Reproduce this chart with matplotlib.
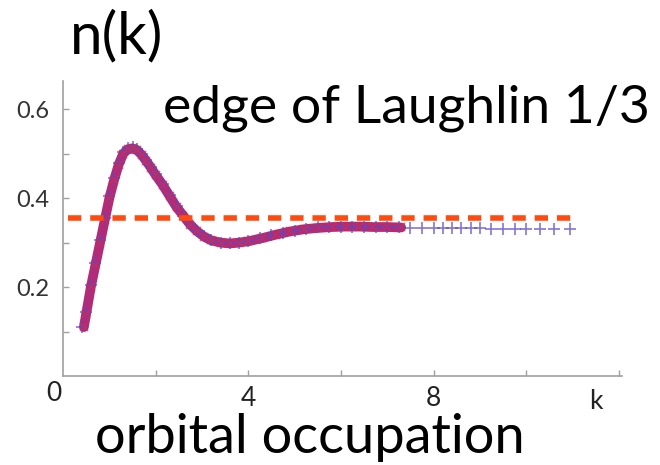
import matplotlib
matplotlib.use('Agg')
import matplotlib.pyplot as plt

# occupation
k_red = [0.45, 0.5, 0.6, 0.7, 0.8, 0.9, 1.0, 1.1, 1.2, 1.3, 1.4, 1.5, 1.6, 1.7, 1.8,
         1.9, 2.0, 2.15, 2.3, 2.45, 2.6, 2.75, 2.9, 3.05, 3.2, 3.4, 3.6, 3.8, 4.0,
         4.3, 4.6, 4.9, 5.2, 5.5, 5.8, 6.1, 6.4, 6.7, 7.0, 7.3]
n_red = [0.11, 0.14, 0.20, 0.25, 0.30, 0.35, 0.40, 0.44, 0.475, 0.50, 0.51, 0.512,
         0.508, 0.497, 0.483, 0.468, 0.452, 0.43, 0.405, 0.38, 0.36, 0.34, 0.325,
         0.313, 0.305, 0.30, 0.298, 0.30, 0.303, 0.31, 0.318, 0.325, 0.33, 0.333,
         0.335, 0.336, 0.336, 0.335, 0.335, 0.334]

k_blue = [0.42, 0.5, 0.6, 0.7, 0.8, 0.9, 1.0, 1.1, 1.2, 1.3, 1.4, 1.5, 1.6, 1.7, 1.8,
          1.9, 2.0, 2.15, 2.3, 2.45, 2.6, 2.75, 2.9, 3.05, 3.2, 3.4, 3.6, 3.8, 4.0,
          4.25, 4.5, 4.75, 5.0, 5.25, 5.5, 5.75, 6.0, 6.25, 6.5, 6.75, 7.0, 7.25,
          7.5, 7.75, 8.0, 8.2, 8.4, 8.6, 8.8, 9.0, 9.25, 9.5, 9.75, 10.0, 10.3,
          10.6, 10.95]
n_blue = [0.11, 0.145, 0.205, 0.255, 0.305, 0.355, 0.405, 0.445, 0.48, 0.503, 0.513,
          0.515, 0.51, 0.5, 0.486, 0.47, 0.455, 0.432, 0.407, 0.382, 0.36, 0.341,
          0.326, 0.314, 0.306, 0.30, 0.298, 0.30, 0.304, 0.31, 0.316, 0.322, 0.327,
          0.331, 0.334, 0.335, 0.336, 0.336, 0.335, 0.335, 0.334, 0.334, 0.333,
          0.333, 0.333, 0.333, 0.332, 0.332, 0.332, 0.332, 0.331, 0.331, 0.331,
          0.331, 0.331, 0.331, 0.331]

nu_line = 0.355
k_line = [0.1, 11.0]

plt.rcParams['font.family'] = ['Lato', 'DejaVu Sans']

fig = plt.figure(figsize=(6.6, 4.65), dpi=100)
ax = fig.add_axes([0.0955, 0.1914, 0.847, 0.634])

ax.plot(k_red, n_red, color='#b02c78', lw=7, solid_capstyle='round', zorder=2)
ax.plot(k_blue, n_blue, ls='none', marker='+', ms=8, mew=1.2, color='#5a4ac4', alpha=0.75, zorder=3)
ax.plot(k_red, n_red, ls='none', marker='x', ms=6, mew=1.2, color='#d42a50', alpha=0.7, zorder=4)
ax.plot(k_line, [nu_line, nu_line], color='#ff4a10', lw=4, dashes=(2.4, 1.6), zorder=5)

ax.set_xlim(0, 12.07)
ax.set_ylim(0, 0.663)
for s in ['top', 'right']:
    ax.spines[s].set_visible(False)
for s in ['left', 'bottom']:
    ax.spines[s].set_color('#a0a0a0')
    ax.spines[s].set_linewidth(1.2)

ax.set_xticks([2, 4, 6, 8, 10, 12])
ax.set_xticklabels([])
ax.set_yticks([0.1, 0.2, 0.3, 0.4, 0.5, 0.6])
ax.set_yticklabels(['', '0.2', '', '0.4', '', '0.6'])
ax.tick_params(direction='in', length=4, color='#a0a0a0', width=1)
ax.tick_params(axis='y', labelsize=17, labelcolor='#333333', pad=10)

# x labels are placed like the slide
for xv, lab in [(4, '4'), (8, '8')]:
    ax.text(xv, -0.022, lab, ha='center', va='top', fontsize=19, color='#222222')
ax.text(-0.2, -0.012, '0', ha='center', va='top', fontsize=19, color='#222222')
ax.text(11.5, -0.03, 'k', ha='center', va='top', fontsize=19, color='#222222')

fig.text(0.106, 0.886, 'n(k)', fontsize=42, color='black', ha='left', va='baseline')
fig.text(0.247, 0.7376, 'edge of Laughlin 1/3', fontsize=38.5, color='black', ha='left', va='baseline')
fig.text(0.144, 0.026, 'orbital occupation', fontsize=39, color='black', ha='left', va='baseline')

fig.savefig('out.png', dpi=100)
